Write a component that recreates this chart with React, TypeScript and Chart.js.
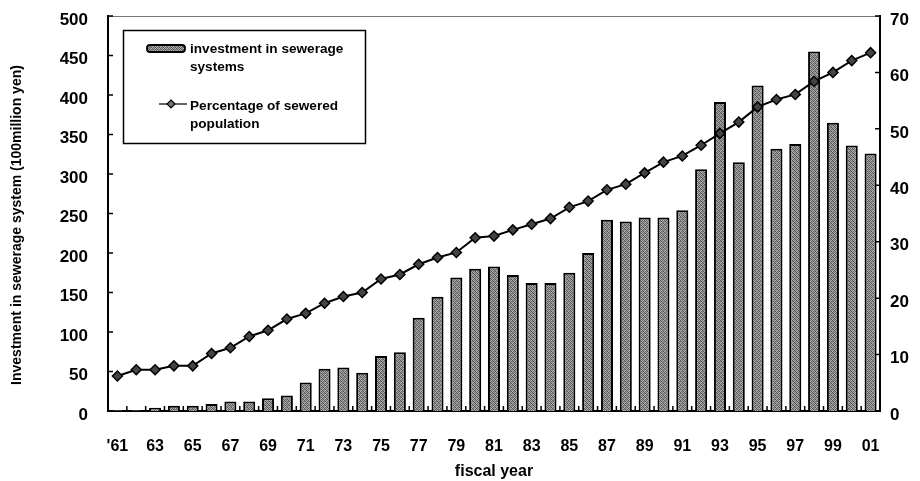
import { useEffect, useRef } from 'react';
import { Chart, registerables } from 'chart.js';

Chart.register(...registerables);

const years = [
  "'61", '62', '63', '64', '65', '66', '67', '68', '69', '70',
  '71', '72', '73', '74', '75', '76', '77', '78', '79', '80',
  '81', '82', '83', '84', '85', '86', '87', '88', '89', '90',
  '91', '92', '93', '94', '95', '96', '97', '98', '99', '00', '01',
];

const investment = [
  1, 1, 4, 6.5, 6.5, 9, 12, 12, 16, 19.5,
  36, 53.5, 55, 48.5, 69.5, 74.5, 118, 144.5, 169, 180,
  183, 172, 162, 162, 175, 200, 242, 240, 245, 245,
  254, 306, 391, 315, 412, 332, 338, 455, 365, 336, 326,
];

const sewered = [
  6.2, 7.3, 7.3, 8.0, 8.0, 10.2, 11.2, 13.2, 14.3, 16.3,
  17.3, 19.1, 20.3, 21.0, 23.4, 24.2, 26.0, 27.2, 28.1, 30.7,
  31.0, 32.1, 33.1, 34.1, 36.1, 37.2, 39.2, 40.2, 42.2, 44.1,
  45.2, 47.1, 49.2, 51.2, 53.9, 55.2, 56.1, 58.4, 60.0, 62.1, 63.5,
];

const legendLabels = [
  ['investment in sewerage', 'systems'],
  ['Percentage of sewered', 'population'],
];

const leftAxisTitle = 'Investment in sewerage system (100million yen)';
const bottomAxisTitle = 'fiscal year';

const FONT = '"Liberation Sans", Arial, Helvetica, sans-serif';

function makePattern(): CanvasPattern | string {
  const c = document.createElement('canvas');
  c.width = 4;
  c.height = 4;
  const g = c.getContext('2d');
  if (!g) return '#777';
  const shades = [
    '#555555', '#a4a4a4', '#777777', '#b2b2b2',
    '#929292', '#4a4a4a', '#aaaaaa', '#666666',
    '#888888', '#b8b8b8', '#525252', '#9c9c9c',
    '#acacac', '#6a6a6a', '#9a9a9a', '#4e4e4e',
  ];
  for (let i = 0; i < 16; i++) {
    g.fillStyle = shades[i];
    g.fillRect(i % 4, Math.floor(i / 4), 1, 1);
  }
  return g.createPattern(c, 'repeat') || '#777';
}

export default function App() {
  const ref = useRef<HTMLCanvasElement | null>(null);

  useEffect(() => {
    if (!ref.current) return;
    const pattern = makePattern();

    const decor = {
      id: 'decor',
      afterDraw(chart: any) {
        const ctx = chart.ctx as CanvasRenderingContext2D;
        const { left, right, top, bottom } = chart.chartArea;
        const ys = chart.scales.y;
        const ys1 = chart.scales.y1;
        const xs = chart.scales.x;
        ctx.save();
        // top frame line
        ctx.strokeStyle = '#777';
        ctx.lineWidth = 1;
        ctx.beginPath();
        ctx.moveTo(left, top + 0.5);
        ctx.lineTo(right, top + 0.5);
        ctx.stroke();
        // inward ticks
        ctx.strokeStyle = '#000';
        ctx.lineWidth = 1.5;
        ctx.beginPath();
        ys.ticks.forEach((t: any) => {
          const py = ys.getPixelForValue(t.value);
          ctx.moveTo(left, py);
          ctx.lineTo(left + 5, py);
        });
        ys1.ticks.forEach((t: any) => {
          const py = ys1.getPixelForValue(t.value);
          ctx.moveTo(right - 5, py);
          ctx.lineTo(right, py);
        });
        const half = (xs.getPixelForValue(1) - xs.getPixelForValue(0)) / 2;
        for (let i = 0; i <= years.length; i++) {
          const px = xs.getPixelForValue(i) - half;
          ctx.moveTo(px, bottom);
          ctx.lineTo(px, bottom - 5);
        }
        ctx.stroke();

        // left axis title
        ctx.save();
        ctx.translate(17, 225);
        ctx.rotate(-Math.PI / 2);
        ctx.fillStyle = '#000';
        ctx.font = `bold 14px ${FONT}`;
        ctx.textAlign = 'center';
        ctx.textBaseline = 'middle';
        ctx.fillText(leftAxisTitle, 0, 0);
        ctx.restore();

        // legend
        const bx = left + 15;
        const by = top + 14;
        ctx.lineWidth = 1.5;
        ctx.strokeRect(bx + 0.5, by + 0.5, 242, 113);
        // bar swatch
        ctx.beginPath();
        (ctx as any).roundRect(bx + 24, by + 15, 38, 7, 3);
        ctx.fillStyle = pattern as any;
        ctx.fill();
        ctx.lineWidth = 1.8;
        ctx.stroke();
        // line swatch
        ctx.beginPath();
        ctx.moveTo(bx + 36, by + 74);
        ctx.lineTo(bx + 64, by + 74);
        ctx.lineWidth = 1.2;
        ctx.stroke();
        const mx = bx + 48;
        const my = by + 74;
        ctx.beginPath();
        ctx.moveTo(mx, my - 4);
        ctx.lineTo(mx + 4, my);
        ctx.lineTo(mx, my + 4);
        ctx.lineTo(mx - 4, my);
        ctx.closePath();
        ctx.fillStyle = '#777';
        ctx.fill();
        ctx.stroke();
        // texts
        ctx.fillStyle = '#000';
        ctx.font = `bold 13.6px ${FONT}`;
        ctx.textBaseline = 'middle';
        ctx.textAlign = 'left';
        ctx.fillText(legendLabels[0][0], bx + 67, by + 19);
        ctx.fillText(legendLabels[0][1], bx + 67, by + 37);
        ctx.fillText(legendLabels[1][0], bx + 67, by + 76);
        ctx.fillText(legendLabels[1][1], bx + 67, by + 94);
        ctx.restore();
      },
    };

    const chart = new Chart(ref.current, {
      type: 'bar',
      data: {
        labels: years,
        datasets: [
          {
            type: 'line',
            label: 'Percentage of sewered population',
            data: sewered,
            yAxisID: 'y1',
            borderColor: '#000',
            borderWidth: 2,
            pointStyle: 'rectRot',
            pointRadius: 5,
            pointBackgroundColor: '#444',
            pointBorderColor: '#000',
            pointBorderWidth: 1.5,
            tension: 0,
            order: 0,
          } as any,
          {
            type: 'bar',
            label: 'investment in sewerage systems',
            data: investment,
            yAxisID: 'y',
            backgroundColor: pattern as any,
            borderColor: '#000',
            borderWidth: 2,
            categoryPercentage: 0.8,
            barPercentage: 0.8,
            order: 1,
          },
        ],
      },
      options: {
        animation: false,
        responsive: true,
        maintainAspectRatio: false,
        layout: { padding: { top: 16, left: 0, right: 0, bottom: 0 } },
        plugins: {
          legend: { display: false },
          tooltip: { enabled: false },
        },
        scales: {
          x: {
            grid: { display: false, drawTicks: false },
            border: { display: true, color: '#000', width: 2 },
            ticks: {
              autoSkip: false,
              maxRotation: 0,
              padding: 26,
              color: '#000',
              font: { family: FONT, size: 16, weight: 'bold' },
              callback: (_v: any, i: number) => (i % 2 === 0 ? years[i] : ''),
            },
            title: {
              display: true,
              text: bottomAxisTitle,
              color: '#000',
              font: { family: FONT, size: 16, weight: 'bold' },
              padding: { top: 0, bottom: 0 },
            },
            afterFit: (s: any) => {
              s.height = 70;
              s.paddingLeft = 0;
              s.paddingRight = 0;
            },
          },
          y: {
            position: 'left',
            min: 0,
            max: 500,
            grid: { display: false, drawTicks: false },
            border: { display: true, color: '#000', width: 2 },
            ticks: {
              stepSize: 50,
              padding: 20,
              labelOffset: 4,
              color: '#000',
              font: { family: FONT, size: 17, weight: 'bold' },
            },
            afterFit: (s: any) => {
              s.width = 108;
              s.paddingTop = 0;
              s.paddingBottom = 0;
            },
          },
          y1: {
            position: 'right',
            min: 0,
            max: 70,
            grid: { display: false, drawTicks: false },
            border: { display: true, color: '#000', width: 2 },
            ticks: {
              stepSize: 10,
              padding: 10,
              labelOffset: 4,
              color: '#000',
              font: { family: FONT, size: 17, weight: 'bold' },
            },
            afterFit: (s: any) => {
              s.width = 40;
              s.paddingTop = 0;
              s.paddingBottom = 0;
            },
          },
        },
      },
      plugins: [decor],
    });

    return () => chart.destroy();
  }, []);

  return (
    <div style={{ position: 'fixed', left: 0, top: 0, width: 920, height: 481, background: '#fff' }}>
      <canvas ref={ref} />
    </div>
  );
}
